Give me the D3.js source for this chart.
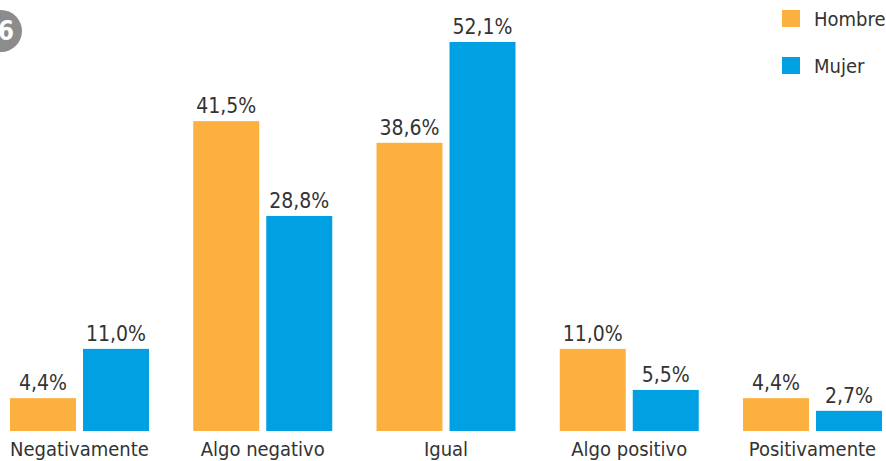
<!DOCTYPE html>
<meta charset="utf-8">
<script src="https://cdn.jsdelivr.net/npm/d3@7"></script>
<style>
body { margin: 0; background: #fff; }
svg text { font-family: "DejaVu Sans Condensed", "Liberation Sans Narrow", sans-serif; fill: #333; }
</style>
<svg width="886" height="461"></svg>
<script>
var categories = ["Negativamente", "Algo negativo", "Igual", "Algo positivo", "Positivamente"];
var series = ["Hombre", "Mujer"];
var hombre = [4.4, 41.5, 38.6, 11.0, 4.4];
var mujer = [11.0, 28.8, 52.1, 5.5, 2.7];
var colors = ["#fbb040", "#00a0e3"];

var svg = d3.select("svg");
var baseline = 431;

var x0 = d3.scaleBand().domain(categories).range([10, 882]).paddingInner(0.2415).paddingOuter(0);
var x1 = d3.scaleBand().domain(series).range([0, x0.bandwidth()]).paddingInner(0.096);
var y = d3.scaleLinear().domain([0, 52.1]).range([baseline, 42]);

var fmt = function(v) { return v.toFixed(1).replace(".", ",") + "%"; };

var rows = categories.map(function(c, i) { return { cat: c, vals: [hombre[i], mujer[i]] }; });

var g = svg.selectAll(".grp").data(rows).enter().append("g")
    .attr("transform", function(d) { return "translate(" + x0(d.cat) + ",0)"; });

var bars = g.selectAll(".bar").data(function(d) {
    return d.vals.map(function(v, j) { return { s: series[j], v: v, j: j }; });
  }).enter();

bars.append("rect")
    .attr("x", function(d) { return x1(d.s); })
    .attr("y", function(d) { return y(d.v); })
    .attr("width", x1.bandwidth())
    .attr("height", function(d) { return baseline - y(d.v); })
    .attr("fill", function(d) { return colors[d.j]; });

bars.append("text")
    .attr("x", function(d) { return x1(d.s) + x1.bandwidth() / 2; })
    .attr("y", function(d) { return y(d.v) - 8; })
    .attr("text-anchor", "middle")
    .style("font-size", "21px")
    .text(function(d) { return fmt(d.v); });

g.append("text")
    .attr("x", x0.bandwidth() / 2)
    .attr("y", 456)
    .attr("text-anchor", "middle")
    .style("font-size", "20px")
    .text(function(d) { return d.cat; });

// legend
var leg = svg.selectAll(".leg").data(series).enter().append("g")
    .attr("transform", function(d, i) { return "translate(782," + (10 + i * 47) + ")"; });
leg.append("rect").attr("width", 18).attr("height", 17).attr("fill", function(d, i) { return colors[i]; });
leg.append("text").attr("x", 32).attr("y", 16).style("font-size", "20px").text(function(d) { return d; });

// number badge (cut by the left edge, as in the source)
svg.append("circle").attr("cx", 1).attr("cy", 31).attr("r", 21).attr("fill", "#8c8c8c");
svg.append("text").attr("x", 6).attr("y", 40).attr("text-anchor", "middle")
    .style("font-size", "26px").style("font-weight", "bold").style("fill", "#fff").text("6");
</script>
